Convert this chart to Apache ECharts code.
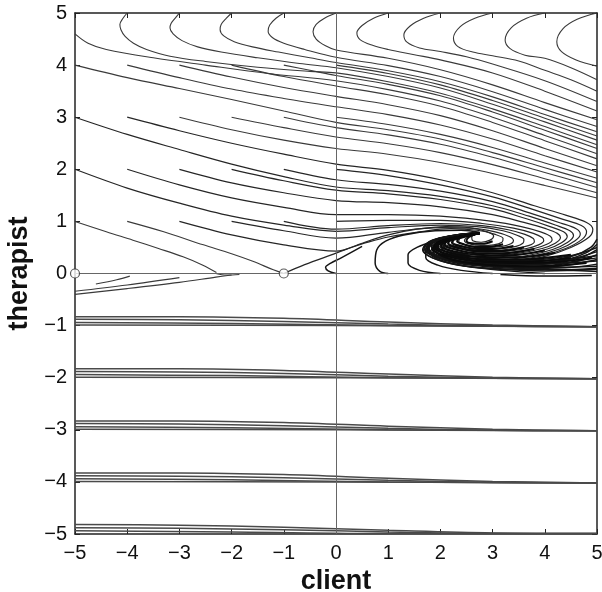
<!DOCTYPE html>
<html>
<head>
  <meta charset="utf-8">
  <title>client / therapist phase portrait</title>
  <script src="https://cdn.jsdelivr.net/npm/echarts@6/dist/echarts.min.js"></script>
  <style>
    html, body { margin: 0; padding: 0; background: #fff; }
    #chart { width: 602px; height: 592px; }
  </style>
</head>
<body>
  <div id="chart"></div>
  <script type="text/javascript">
    // C-shaped trajectories starting on the top edge (therapist = 5)
    var topCurves = [
      [[0,5],[-0.22,4.9],[-0.38,4.78],[-0.44,4.64],[-0.38,4.5],[-0.2,4.37],[0,4.29],[1,4.13],[2,3.91],[3,3.62],[4,3.28],[5,2.95]],
      [[-1,5],[-1.15,4.9],[-1.27,4.77],[-1.3,4.65],[-1.22,4.53],[-1.0,4.42],[-0.6,4.3],[0,4.15],[1,3.99],[2,3.78],[3,3.49],[4,3.15],[5,2.82]],
      [[-2,5],[-2.1,4.9],[-2.2,4.78],[-2.22,4.68],[-2.15,4.56],[-1.95,4.45],[-1.6,4.35],[-1.1,4.25],[-0.5,4.14],[0,4.05],[1,3.89],[2,3.68],[3,3.39],[4,3.05],[5,2.72]],
      [[-3,5],[-3.08,4.9],[-3.16,4.8],[-3.18,4.71],[-3.12,4.6],[-2.95,4.47],[-2.65,4.35],[-2.2,4.25],[-1.5,4.14],[-0.7,4.03],[0,3.95],[1,3.78],[2,3.56],[3,3.25],[4,2.91],[5,2.56]],
      [[-4,5],[-4.08,4.9],[-4.14,4.78],[-4.12,4.68],[-4.04,4.55],[-3.88,4.42],[-3.63,4.3],[-3.18,4.17],[-2.5,4.07],[-1.5,3.96],[-0.5,3.88],[0,3.85],[1,3.68],[2,3.46],[3,3.16],[4,2.82],[5,2.47]],
      [[-5,4.6],[-4.75,4.42],[-4.4,4.3],[-3.5,4.14],[-2.5,4.0],[-1.3,3.84],[0,3.7],[1,3.53],[2,3.31],[3,3.0],[4,2.65],[5,2.3]],
      [[1,5],[0.72,4.9],[0.5,4.76],[0.4,4.62],[0.46,4.49],[0.7,4.38],[1,4.3],[1.5,4.2],[2,4.1],[3,3.85],[4,3.5],[5,3.12]],
      [[2,5],[1.68,4.9],[1.42,4.75],[1.3,4.58],[1.36,4.44],[1.6,4.33],[2,4.26],[2.5,4.16],[3,4.02],[4,3.7],[5,3.3]],
      [[3,5],[2.66,4.9],[2.38,4.74],[2.25,4.52],[2.33,4.36],[2.62,4.25],[3,4.18],[3.5,4.08],[4,3.9],[4.5,3.72],[5,3.5]],
      [[4,5],[3.65,4.9],[3.36,4.72],[3.24,4.48],[3.33,4.32],[3.62,4.19],[4,4.13],[4.5,3.95],[5,3.72]],
      [[5,5],[4.62,4.88],[4.35,4.7],[4.23,4.45],[4.32,4.26],[4.6,4.1],[5,3.98]]
    ];

    // trajectories that leave through the right edge
    var exitCurves = [
      [[0,4],[1,3.84],[2,3.62],[3,3.32],[4,2.98],[5,2.64]],
      [[-1,4],[-0.5,3.9],[0,3.8],[1,3.63],[2,3.41],[3,3.1],[4,2.75],[5,2.4]],
      [[-2,4],[-1,3.78],[0,3.6],[1,3.43],[2,3.21],[3,2.9],[4,2.55],[5,2.2]],
      [[-3,4],[-2,3.77],[-1,3.57],[0,3.4],[1,3.24],[2,3.03],[3,2.74],[4,2.4],[5,2.07]],
      [[-4,4],[-3,3.76],[-2,3.54],[-1,3.36],[0,3.2],[1,3.05],[2,2.85],[3,2.58],[4,2.26],[5,1.95]],
      [[0,3],[1,2.86],[2,2.67],[3,2.42],[4,2.12],[5,1.83]],
      [[-5,4],[-4,3.76],[-3,3.55],[-2,3.34],[-1,3.12],[0,2.9],[1,2.76],[2,2.58],[3,2.32],[4,2.03],[5,1.74]],
      [[-1,3],[0,2.8],[1,2.66],[2,2.48],[3,2.23],[4,1.94],[5,1.65]],
      [[-2,3],[-1,2.8],[0,2.62],[1,2.49],[2,2.32],[3,2.09],[4,1.82],[5,1.55]],
      [[-3,3],[-2,2.76],[-1,2.56],[0,2.4],[1,2.29],[2,2.13],[3,1.92],[4,1.69],[5,1.45]]
    ];

    // trajectories winding into the focus near (2.75, 0.78)
    var spiralCurves = [
      [[-4,3],[-3,2.74],[-2,2.5],[-1,2.29],[0,2.1],[1,1.98],[2,1.8],[3,1.55],[3.8,1.3],[4.4,1.12],[4.8,0.98],[4.92,0.85],[4.85,0.7],[4.5,0.5],[4,0.33],[3.3,0.2],[2.6,0.18],[2.1,0.26],[1.8,0.38],[1.74,0.5],[1.9,0.62],[2.3,0.72],[2.75,0.78]],
      [[0,2.0],[1,1.88],[2,1.7],[3,1.47],[3.8,1.22],[4.35,1.04],[4.7,0.92],[4.8,0.8],[4.72,0.66],[4.4,0.48],[3.9,0.33],[3.2,0.23],[2.6,0.21],[2.15,0.29],[1.84,0.4],[1.78,0.52],[1.94,0.63],[2.32,0.72],[2.75,0.78]],
      [[-1,2],[0,1.8],[1,1.71],[2,1.58],[3,1.38],[3.75,1.15],[4.3,0.97],[4.6,0.86],[4.68,0.76],[4.58,0.63],[4.28,0.47],[3.8,0.34],[3.1,0.26],[2.55,0.25],[2.18,0.32],[1.88,0.42],[1.82,0.54],[1.97,0.64],[2.35,0.72],[2.75,0.78]],
      [[-5,3],[-4,2.67],[-3,2.38],[-2,2.1],[-1,1.86],[0,1.66],[1,1.59],[2,1.48],[3,1.3],[3.7,1.1],[4.2,0.93],[4.48,0.82],[4.55,0.73],[4.44,0.6],[4.15,0.46],[3.7,0.35],[3.05,0.29],[2.55,0.28],[2.22,0.34],[1.93,0.44],[1.85,0.55],[2.0,0.65],[2.38,0.72],[2.75,0.78]],
      [[-2,2],[-1,1.78],[0,1.6],[1,1.53],[2,1.42],[3,1.24],[3.65,1.05],[4.1,0.9],[4.36,0.8],[4.43,0.71],[4.32,0.59],[4.05,0.47],[3.6,0.37],[3.0,0.32],[2.55,0.32],[2.25,0.37],[1.97,0.46],[1.88,0.56],[2.03,0.66],[2.4,0.73],[2.75,0.78]],
      [[-3,2],[-2,1.74],[-1,1.55],[0,1.4],[1,1.36],[2,1.28],[3,1.13],[3.6,0.98],[4.02,0.86],[4.24,0.77],[4.3,0.69],[4.2,0.58],[3.95,0.48],[3.5,0.39],[2.95,0.35],[2.55,0.36],[2.28,0.41],[2.02,0.49],[1.92,0.58],[2.06,0.67],[2.42,0.74],[2.75,0.78]],
      [[-4,2],[-3,1.7],[-2,1.45],[-1,1.27],[0,1.13],[1,1.13],[2,1.1],[3,1.0],[3.55,0.9],[3.92,0.8],[4.1,0.72],[4.14,0.65],[4.04,0.56],[3.8,0.48],[3.4,0.41],[2.95,0.38],[2.58,0.4],[2.32,0.45],[2.06,0.52],[1.97,0.6],[2.1,0.68],[2.45,0.74],[2.75,0.78]],
      [[0,1.0],[1,1.02],[2,1.02],[2.8,0.96],[3.4,0.87],[3.78,0.77],[3.95,0.69],[3.98,0.63],[3.88,0.55],[3.65,0.48],[3.3,0.43],[2.9,0.41],[2.6,0.43],[2.35,0.48],[2.1,0.55],[2.03,0.62],[2.15,0.69],[2.48,0.75],[2.75,0.78]],
      [[-1,1],[0,0.85],[1,0.92],[2,0.96],[2.8,0.92],[3.3,0.84],[3.62,0.75],[3.78,0.67],[3.8,0.61],[3.7,0.54],[3.48,0.49],[3.15,0.45],[2.8,0.44],[2.52,0.47],[2.3,0.52],[2.14,0.58],[2.12,0.64],[2.25,0.71],[2.52,0.76],[2.75,0.78]],
      [[-5,2],[-4,1.64],[-3,1.35],[-2,1.1],[-1,0.93],[0,0.81],[1,0.88],[2,0.93],[2.7,0.9],[3.2,0.82],[3.48,0.73],[3.6,0.65],[3.58,0.58],[3.45,0.52],[3.2,0.48],[2.9,0.47],[2.6,0.49],[2.38,0.54],[2.24,0.6],[2.26,0.67],[2.45,0.74],[2.75,0.78]],
      [[-2,1],[-1,0.82],[0,0.68],[1,0.79],[2,0.88],[2.6,0.87],[3.05,0.8],[3.32,0.71],[3.4,0.63],[3.35,0.57],[3.18,0.52],[2.92,0.5],[2.65,0.52],[2.45,0.56],[2.35,0.62],[2.4,0.69],[2.58,0.75],[2.75,0.78]],
      [[-3,1],[-2,0.74],[-1,0.55],[0,0.43],[0.5,0.57],[1,0.7],[1.6,0.8],[2.2,0.86],[2.7,0.83],[3.05,0.75],[3.2,0.67],[3.18,0.6],[3.02,0.55],[2.78,0.54],[2.56,0.57],[2.46,0.63],[2.52,0.7],[2.65,0.76],[2.75,0.78]],
      [[-1,0],[-0.6,0.17],[0,0.39],[0.5,0.58],[1.0,0.74],[1.55,0.85],[2.1,0.9],[2.55,0.88],[2.9,0.8],[3.02,0.72],[2.95,0.64],[2.78,0.6],[2.62,0.63],[2.6,0.7],[2.75,0.78]]
    ];

    // trajectories coming back in through the right edge, low down
    var edgeCurves = [
      [[5,0.1],[4.3,0.07],[3.5,0.08],[2.8,0.11],[2.25,0.18],[1.85,0.3],[1.68,0.43],[1.72,0.56],[1.9,0.66],[2.3,0.74],[2.75,0.78]],
      [[5,0.18],[4.4,0.11],[3.6,0.1],[2.9,0.13],[2.3,0.2],[1.9,0.32],[1.7,0.45],[1.74,0.57],[1.92,0.66],[2.3,0.74],[2.75,0.78]],
      [[5,0.27],[4.5,0.17],[3.8,0.12],[3.0,0.14],[2.4,0.2],[1.95,0.31],[1.72,0.46],[1.78,0.58],[1.95,0.66],[2.32,0.74],[2.75,0.78]],
      [[5,0.36],[4.6,0.23],[4.0,0.15],[3.2,0.14],[2.5,0.19],[2.0,0.3],[1.75,0.45],[1.8,0.58],[1.98,0.67],[2.35,0.74],[2.75,0.78]],
      [[5,0.46],[4.7,0.31],[4.2,0.2],[3.4,0.16],[2.6,0.19],[2.05,0.3],[1.77,0.46],[1.83,0.59],[2.0,0.67],[2.37,0.74],[2.75,0.78]],
      [[5,0.56],[4.8,0.4],[4.4,0.26],[3.7,0.18],[2.9,0.18],[2.25,0.25],[1.85,0.38],[1.78,0.5],[1.9,0.62],[2.3,0.72],[2.75,0.78]],
      [[5,0.66],[4.88,0.5],[4.55,0.34],[4,0.24],[3.2,0.2],[2.45,0.23],[1.95,0.34],[1.77,0.48],[1.87,0.6],[2.25,0.71],[2.75,0.78]],
      [[5,0.04],[4,0.08],[3,0.15],[2.3,0.24],[1.9,0.36],[1.85,0.5],[2.1,0.62],[2.5,0.72],[2.75,0.78]],
      [[5,0.08],[4,0.05],[3,0.09],[2.3,0.17],[1.85,0.3],[1.66,0.45],[1.75,0.58],[2.0,0.68],[2.4,0.75],[2.75,0.78]],
      [[5,0.3],[4.3,0.2],[3.5,0.17],[2.7,0.2],[2.15,0.28],[1.82,0.41],[1.76,0.53],[1.9,0.64],[2.3,0.73],[2.75,0.78]],
      [[5,0.42],[4.5,0.28],[3.8,0.21],[2.9,0.22],[2.3,0.29],[1.9,0.42],[1.82,0.55],[1.98,0.65],[2.35,0.73],[2.75,0.78]],
      [[5,0.14],[4,0.12],[3,0.16],[2.4,0.24],[2,0.36],[1.9,0.5],[2.1,0.62],[2.5,0.72],[2.75,0.78]],
      [[5,0.24],[4,0.19],[3,0.2],[2.4,0.28],[2.02,0.4],[1.95,0.53],[2.12,0.64],[2.5,0.73],[2.75,0.78]],
      [[5,0.34],[4,0.25],[3,0.25],[2.45,0.32],[2.08,0.43],[2.0,0.55],[2.15,0.65],[2.52,0.73],[2.75,0.78]],
      [[5,0.5],[4.5,0.34],[3.8,0.27],[3,0.28],[2.5,0.35],[2.12,0.46],[2.05,0.57],[2.2,0.66],[2.55,0.74],[2.75,0.78]],
      [[4,0],[3.2,0.06],[2.5,0.14],[2.0,0.26],[1.8,0.4],[1.95,0.55],[2.4,0.68],[2.75,0.77]],
      [[3,0],[2.4,0.06],[1.95,0.16],[1.72,0.3],[1.72,0.45],[1.95,0.58],[2.4,0.7],[2.75,0.78]],
      [[2,0],[1.6,0.06],[1.38,0.2],[1.38,0.36],[1.55,0.5],[1.9,0.62],[2.35,0.72],[2.75,0.78]],
      [[1,0],[0.84,0.04],[0.75,0.2],[0.78,0.45],[0.95,0.62],[1.3,0.74],[1.9,0.82],[2.4,0.83],[2.75,0.79]],
      [[0,0],[-0.15,0.05],[-0.2,0.12],[-0.1,0.2],[0.1,0.3],[0.5,0.52]],
      [[3.15,-0.02],[4,-0.05],[4.9,-0.04]]
    ];

    // tight inner windings in the dark region around the focus
    var innerCurves = [
      [[4.5,0.3],[3.5,0.22],[2.7,0.24],[2.1,0.34],[1.85,0.46],[1.95,0.6],[2.35,0.7],[2.75,0.77]],
      [[4.5,0.36],[3.5,0.27],[2.7,0.28],[2.15,0.37],[1.9,0.49],[2.0,0.61],[2.4,0.71],[2.75,0.77]],
      [[4.2,0.4],[3.4,0.31],[2.7,0.32],[2.2,0.4],[1.95,0.51],[2.05,0.62],[2.42,0.71],[2.75,0.77]],
      [[4,0.44],[3.3,0.35],[2.7,0.36],[2.25,0.43],[2.02,0.53],[2.1,0.63],[2.45,0.72],[2.75,0.77]],
      [[3.8,0.47],[3.2,0.39],[2.7,0.39],[2.3,0.46],[2.08,0.55],[2.15,0.64],[2.48,0.73],[2.75,0.77]],
      [[3.6,0.5],[3.1,0.43],[2.7,0.43],[2.35,0.49],[2.15,0.57],[2.2,0.65],[2.5,0.73],[2.75,0.77]],
      [[3.4,0.53],[3.0,0.47],[2.7,0.47],[2.4,0.52],[2.22,0.59],[2.28,0.67],[2.55,0.74],[2.75,0.77]],
      [[3.2,0.56],[2.9,0.51],[2.65,0.51],[2.45,0.56],[2.32,0.62],[2.38,0.69],[2.6,0.75],[2.75,0.77]],
      [[3.0,0.62],[2.8,0.57],[2.6,0.58],[2.5,0.63],[2.55,0.7],[2.7,0.76]],
      [[4.8,0.2],[4,0.14],[3.2,0.15],[2.5,0.21],[2.05,0.33],[1.88,0.47],[1.98,0.6],[2.35,0.7],[2.75,0.77]],
      [[4.9,0.3],[4.2,0.22],[3.4,0.2],[2.6,0.25],[2.12,0.36],[1.93,0.5],[2.02,0.62],[2.4,0.71],[2.75,0.77]]
    ];

    // trajectories near the client axis on the left
    var baseCurves = [
      [[-5,1],[-4.4,0.8],[-3.89,0.64],[-3.4,0.48],[-2.93,0.32],[-2.55,0.16],[-2.29,0.02]],
      [[-4,1],[-3.3,0.8],[-2.54,0.55],[-2,0.38],[-1.58,0.23],[-1.2,0.07],[-1,0]],
      [[-5,-0.4],[-4,-0.29],[-3,-0.17],[-2.3,-0.07],[-2.0,-0.03]],
      [[-5,-0.34],[-4,-0.22],[-3.0,-0.08]],
      [[-4.6,-0.2],[-4.2,-0.12],[-3.95,-0.05]],
      [[-2.3,0],[-2.1,-0.03],[-1.85,-0.02]]
    ];

    // nearly flat bundles below the client axis
    var lowerCurves = [
      [[-5,-0.83],[-3,-0.83],[-1,-0.86],[1,-0.93],[3,-0.99],[5,-1.02]],
      [[-5,-0.88],[-3,-0.89],[-1,-0.92],[1,-0.97],[3,-1.01],[5,-1.02]],
      [[-5,-0.94],[-2,-0.96],[1,-1.0],[5,-1.02]],
      [[-5,-0.99],[0,-1.0],[5,-1.02]],
      [[-5,-1.83],[-3,-1.83],[-1,-1.86],[1,-1.93],[3,-1.99],[5,-2.02]],
      [[-5,-1.88],[-3,-1.89],[-1,-1.92],[1,-1.97],[3,-2.01],[5,-2.02]],
      [[-5,-1.94],[-2,-1.96],[1,-2.0],[5,-2.02]],
      [[-5,-1.99],[0,-2.0],[5,-2.02]],
      [[-5,-2.83],[-3,-2.83],[-1,-2.86],[1,-2.93],[3,-2.99],[5,-3.02]],
      [[-5,-2.88],[-3,-2.89],[-1,-2.92],[1,-2.97],[3,-3.01],[5,-3.02]],
      [[-5,-2.94],[-2,-2.96],[1,-3.0],[5,-3.02]],
      [[-5,-2.99],[0,-3.0],[5,-3.02]],
      [[-5,-3.83],[-3,-3.83],[-1,-3.86],[1,-3.93],[3,-3.99],[5,-4.02]],
      [[-5,-3.88],[-3,-3.89],[-1,-3.92],[1,-3.97],[3,-4.01],[5,-4.02]],
      [[-5,-3.94],[-2,-3.96],[1,-4.0],[5,-4.02]],
      [[-5,-3.99],[0,-4.0],[5,-4.02]],
      [[-5,-4.82],[-3,-4.83],[-1,-4.87],[1,-4.93],[3,-4.98],[5,-4.99]],
      [[-5,-4.88],[-3,-4.89],[-1,-4.92],[1,-4.96],[3,-4.99],[5,-4.99]],
      [[-5,-4.94],[-2,-4.96],[1,-4.99],[5,-4.99]]
    ];

    var restPoints = [[-1, 0], [-5, 0]];

    var chart = echarts.init(document.getElementById('chart'));

    var series = [];
    function addCurves(list, color, width) {
      for (var i = 0; i < list.length; i++) {
        series.push({
          type: 'line',
          data: list[i],
          showSymbol: false,
          smooth: 0.35,
          silent: true,
          z: 3,
          lineStyle: { color: color, width: width }
        });
      }
    }
    addCurves(topCurves, '#3a3a3a', 1.1);
    addCurves(exitCurves, '#3a3a3a', 1.1);
    addCurves(spiralCurves, '#262626', 1.2);
    addCurves(edgeCurves, '#151515', 1.5);
    addCurves(innerCurves, '#0a0a0a', 2);
    addCurves(baseCurves, '#3a3a3a', 1.1);
    addCurves(lowerCurves, '#4a4a4a', 1.5);

    // zero lines + rest points
    series.push({
      type: 'scatter',
      data: restPoints,
      symbol: 'circle',
      symbolSize: 9,
      silent: true,
      z: 10,
      itemStyle: { color: '#fff', borderColor: '#333', borderWidth: 1.2 },
      markLine: {
        silent: true,
        symbol: 'none',
        label: { show: false },
        lineStyle: { color: '#666', width: 1, type: 'solid' },
        data: [{ xAxis: 0 }, { yAxis: 0 }]
      }
    });

    var minus = function (v) { return String(v).replace('-', '\u2212'); };
    var frame = { show: true, onZero: false, lineStyle: { color: '#222', width: 1.5 } };
    var ticks = { show: true, inside: true, length: 5, lineStyle: { color: '#222' } };
    var font = 'Liberation Sans';

    chart.setOption({
      animation: false,
      backgroundColor: '#fff',
      grid: { left: 75, right: 5, top: 13, bottom: 58, outerBoundsMode: 'none', containLabel: false },
      xAxis: [{
        type: 'value', min: -5, max: 5, interval: 1, position: 'bottom',
        axisLine: frame, axisTick: ticks, splitLine: { show: false },
        axisLabel: { formatter: minus, fontSize: 20, color: '#111', margin: 9, fontFamily: font },
        name: 'client', nameLocation: 'middle', nameGap: 29,
        nameTextStyle: { fontSize: 27, fontWeight: 'bold', color: '#111', fontFamily: font }
      }, {
        type: 'value', min: -5, max: 5, interval: 1, position: 'top',
        axisLine: frame, axisTick: ticks, splitLine: { show: false }, axisLabel: { show: false }
      }],
      yAxis: [{
        type: 'value', min: -5, max: 5, interval: 1, position: 'left',
        axisLine: frame, axisTick: ticks, splitLine: { show: false },
        axisLabel: { formatter: minus, fontSize: 20, color: '#111', margin: 8, fontFamily: font },
        name: 'therapist', nameLocation: 'middle', nameGap: 40,
        nameTextStyle: { fontSize: 27, fontWeight: 'bold', color: '#111', fontFamily: font }
      }, {
        type: 'value', min: -5, max: 5, interval: 1, position: 'right',
        axisLine: frame, axisTick: ticks, splitLine: { show: false }, axisLabel: { show: false }
      }],
      series: series
    });
  </script>
</body>
</html>
